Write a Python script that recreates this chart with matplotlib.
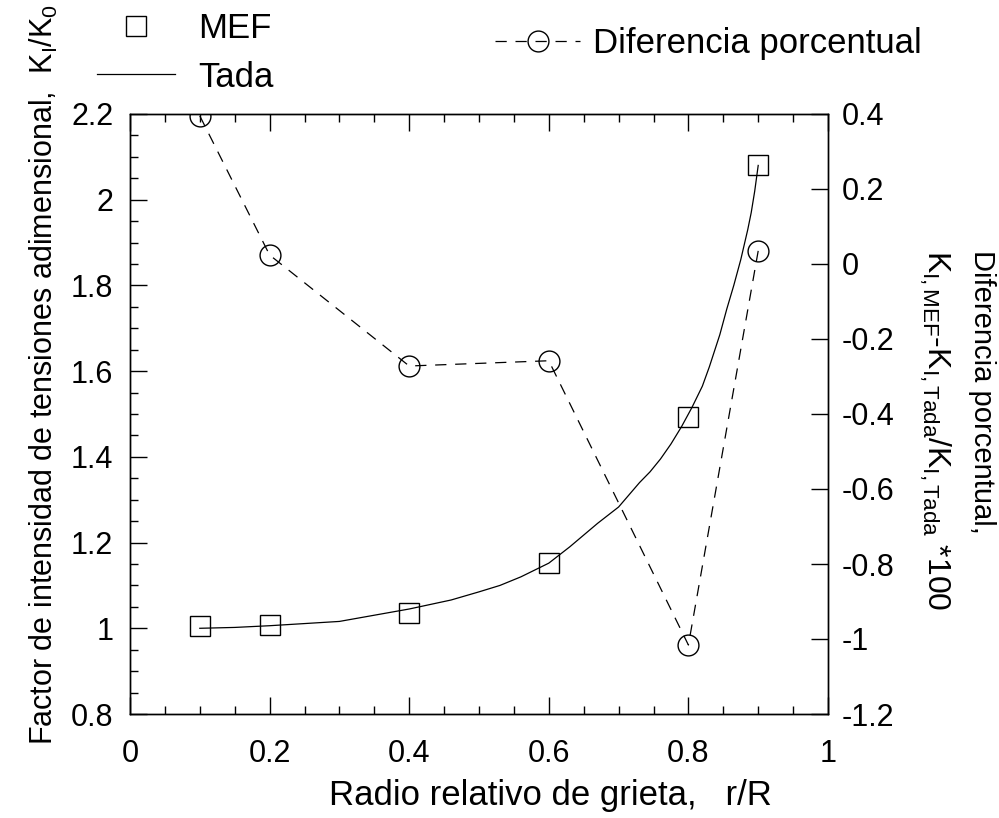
import matplotlib
matplotlib.use("Agg")
import matplotlib.pyplot as plt
from matplotlib.ticker import MultipleLocator

plt.rcParams['font.family'] = ['Liberation Sans', 'DejaVu Sans']
plt.rcParams['mathtext.fontset'] = 'custom'
plt.rcParams['mathtext.rm'] = 'Liberation Sans'
plt.rcParams['mathtext.it'] = 'Liberation Sans'

# MEF results (left axis)
r_mef = [0.1, 0.2, 0.4, 0.6, 0.8, 0.9]
k_mef = [1.005, 1.007, 1.036, 1.152, 1.493, 2.08]

# Tada solution
r_tada = [0.1, 0.15, 0.2, 0.3, 0.4, 0.46, 0.5, 0.53, 0.56, 0.6, 0.63, 0.67,
          0.7, 0.73, 0.745, 0.76, 0.775, 0.79, 0.805, 0.82, 0.83, 0.845,
          0.855, 0.865, 0.875, 0.885, 0.89, 0.895, 0.9]
k_tada = [1.0, 1.002, 1.006, 1.016, 1.045, 1.066, 1.085, 1.10, 1.12, 1.152,
          1.19, 1.245, 1.283, 1.34, 1.365, 1.395, 1.43, 1.47, 1.515, 1.565,
          1.61, 1.685, 1.745, 1.80, 1.86, 1.93, 1.97, 2.02, 2.08]

# percentage difference (right axis)
r_dif = [0.1, 0.2, 0.4, 0.6, 0.8, 0.9]
dif = [0.395, 0.024, -0.272, -0.258, -1.016, 0.035]

FS_TICK = 22
FS_LAB = 25

fig = plt.figure(figsize=(9.99, 8.18), dpi=100)
ax = fig.add_axes([130/999, 104/818, 698/999, 600/818])

ax.plot(r_tada, k_tada, color='black', lw=0.9, label='Tada', zorder=3)
ax.plot(r_mef, k_mef, linestyle='none', marker='s', markersize=15,
        markerfacecolor='none', markeredgecolor='black', markeredgewidth=1.0,
        label='MEF', zorder=2)

ax.set_xlim(0, 1)
ax.set_ylim(0.8, 2.2)
ax.xaxis.set_minor_locator(MultipleLocator(0.05))
ax.yaxis.set_minor_locator(MultipleLocator(0.05))
ax.set_xticks([0, 0.2, 0.4, 0.6, 0.8, 1.0])
ax.set_xticklabels(['0', '0.2', '0.4', '0.6', '0.8', '1'])
ax.set_yticks([0.8, 1.0, 1.2, 1.4, 1.6, 1.8, 2.0, 2.2])
ax.set_yticklabels(['0.8', '1', '1.2', '1.4', '1.6', '1.8', '2', '2.2'])
ax.tick_params(which='both', direction='in', top=True, right=False,
               labelsize=FS_TICK, width=1)
ax.tick_params(which='major', length=12)
ax.tick_params(which='minor', length=6)
ax.tick_params(axis='x', pad=18)
ax.tick_params(axis='y', pad=12)

ax2 = ax.twinx()
ax2.plot(r_dif, dif, color='black', lw=0.9, dashes=(9, 7), marker='o',
         markersize=15, markerfacecolor='none', markeredgecolor='black',
         markeredgewidth=1.0, label='Diferencia porcentual')
ax2.set_ylim(-1.2, 0.4)
ax2.set_yticks([-1.2, -1.0, -0.8, -0.6, -0.4, -0.2, 0, 0.2, 0.4])
ax2.set_yticklabels(['-1.2', '-1', '-0.8', '-0.6', '-0.4', '-0.2', '0', '0.2', '0.4'])
ax2.tick_params(direction='in', length=12, width=1, labelsize=FS_TICK, pad=10)

for a in (ax, ax2):
    for s in a.spines.values():
        s.set_linewidth(1.0)

fig.text(550/999, 1 - 795/818, 'Radio relativo de grieta,   r/R',
         ha='center', va='center', fontsize=FS_LAB)
fig.text(44/999, 1 - 745/818,
         r'Factor de intensidad de tensiones adimensional,  K$_\mathrm{I}$/K$_\mathrm{0}$',
         rotation=90, ha='center', va='bottom', fontsize=22)
fig.text(982/999, 1 - 250/818, 'Diferencia porcentual,',
         rotation=-90, ha='center', va='top', fontsize=21)
fig.text(935/999, 1 - 250/818,
         r'K$_\mathrm{I,MEF}$-K$_\mathrm{I,Tada}$/K$_\mathrm{I,Tada}$ *100',
         rotation=-90, ha='center', va='top', fontsize=23)

h1, l1 = ax.get_legend_handles_labels()
fig.legend([h1[1], h1[0]], [l1[1], l1[0]], loc='upper left',
           bbox_to_anchor=(97/999, 1 - 12/818), frameon=False, fontsize=FS_LAB,
           handlelength=2.25, handletextpad=0.66, labelspacing=0.45,
           borderpad=0, borderaxespad=0)
h2, l2 = ax2.get_legend_handles_labels()
fig.legend(h2, l2, loc='upper left', bbox_to_anchor=(495/999, 1 - 27/818),
           frameon=False, fontsize=FS_LAB, handlelength=2.45, handletextpad=0.37,
           borderpad=0, borderaxespad=0)

fig.savefig('out.png', dpi=100)
